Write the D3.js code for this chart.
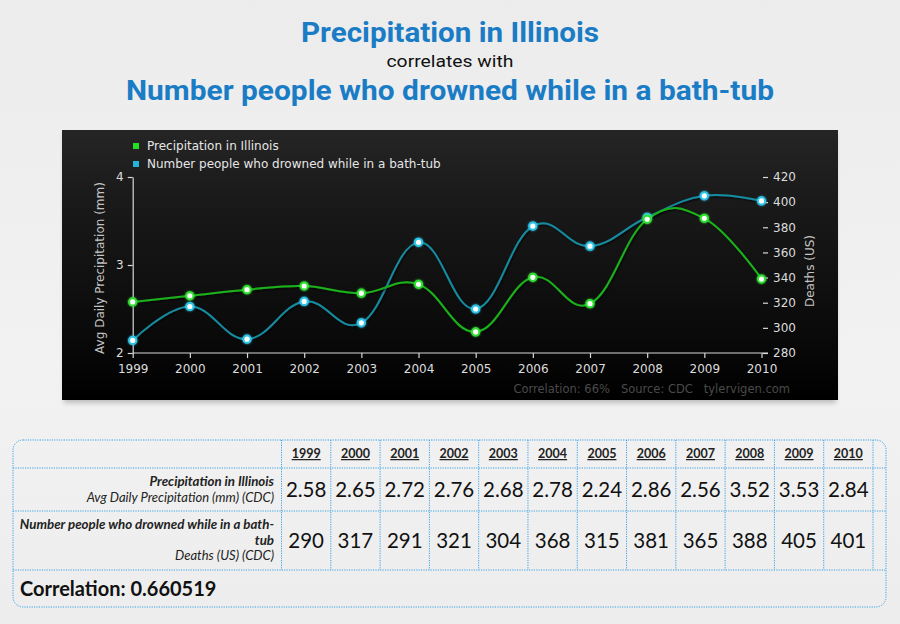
<!DOCTYPE html>
<html>
<head>
<meta charset="utf-8">
<script src="https://cdn.jsdelivr.net/npm/d3@7"></script>
<style>
html,body{margin:0;padding:0;background:#efefef;}
svg{display:block;}
</style>
</head>
<body>
<svg id="chart" width="900" height="624"></svg>
<script>
// ---- data ----
const years = [1999,2000,2001,2002,2003,2004,2005,2006,2007,2008,2009,2010];
const precipitation = [2.58,2.65,2.72,2.76,2.68,2.78,2.24,2.86,2.56,3.52,3.53,2.84];
const drownings = [290,317,291,321,304,368,315,381,365,388,405,401];
const leftTicks = [2,3,4];
const rightTicks = [280,300,320,340,360,380,400,420];
const seriesNames = ["Precipitation in Illinois","Number people who drowned while in a bath-tub"];
const precipLabel = ["Precipitation in Illinois","Avg Daily Precipitation (mm) (CDC)"];
const drownLabel = ["Number people who drowned while in a bath-","tub","Deaths (US) (CDC)"];
const precipText = ["2.58","2.65","2.72","2.76","2.68","2.78","2.24","2.86","2.56","3.52","3.53","2.84"];
const correlationText = "Correlation: 0.660519";
const creditText = "Correlation: 66%   Source: CDC   tylervigen.com";

const svg = d3.select("#chart");
const defs = svg.append("defs");

// background gradient
const pg = defs.append("linearGradient").attr("id","pagebg").attr("x1",0).attr("y1",0).attr("x2",0).attr("y2",1);
pg.append("stop").attr("offset","0%").attr("stop-color","#ececec");
pg.append("stop").attr("offset","60%").attr("stop-color","#f2f2f2");
pg.append("stop").attr("offset","100%").attr("stop-color","#ededed");
svg.append("rect").attr("width",900).attr("height",624).attr("fill","url(#pagebg)");

const cg = defs.append("linearGradient").attr("id","chartbg").attr("x1",0).attr("y1",0).attr("x2",0).attr("y2",1);
[["0%","#252525"],["25%","#1a1a1a"],["50%","#121212"],["75%","#0a0a0a"],["100%","#000000"]].forEach(s=>
  cg.append("stop").attr("offset",s[0]).attr("stop-color",s[1]));

const sh = defs.append("filter").attr("id","boxshadow").attr("x","-5%").attr("y","-10%").attr("width","110%").attr("height","125%");
sh.append("feGaussianBlur").attr("stdDeviation",2.5);

const lineShadow = defs.append("filter").attr("id","lineshadow").attr("x","-10%").attr("y","-10%").attr("width","120%").attr("height","130%");
lineShadow.append("feDropShadow").attr("dx",1).attr("dy",1).attr("stdDeviation",1.2).attr("flood-color","#000").attr("flood-opacity",0.9);

const glow = defs.append("filter").attr("id","glow").attr("x","-100%").attr("y","-100%").attr("width","300%").attr("height","300%");
glow.append("feGaussianBlur").attr("stdDeviation",1.2).attr("result","b");
const gm = glow.append("feMerge");
gm.append("feMergeNode").attr("in","b");
gm.append("feMergeNode").attr("in","SourceGraphic");

// ---- titles ----
const titleBlue = "#1b7cc6";
svg.append("text").attr("x",450).attr("y",42).attr("text-anchor","middle")
  .attr("font-family","Roboto, 'Open Sans', sans-serif").attr("font-weight","bold").attr("font-size",27)
  .attr("fill",titleBlue).attr("textLength",298).attr("lengthAdjust","spacingAndGlyphs")
  .text("Precipitation in Illinois");
svg.append("text").attr("x",450).attr("y",67).attr("text-anchor","middle")
  .attr("font-family","Roboto, 'Open Sans', sans-serif").attr("font-size",16.5)
  .attr("fill","#111").attr("textLength",127).attr("lengthAdjust","spacingAndGlyphs")
  .text("correlates with");
svg.append("text").attr("x",450).attr("y",100).attr("text-anchor","middle")
  .attr("font-family","Roboto, 'Open Sans', sans-serif").attr("font-weight","bold").attr("font-size",27)
  .attr("fill",titleBlue).attr("textLength",648).attr("lengthAdjust","spacingAndGlyphs")
  .text("Number people who drowned while in a bath-tub");

// ---- chart box ----
svg.append("rect").attr("x",64).attr("y",134).attr("width",772).attr("height",269)
  .attr("fill","#000").attr("opacity",0.22).attr("filter","url(#boxshadow)");
svg.append("rect").attr("x",62).attr("y",130).attr("width",776).attr("height",270)
  .attr("fill","url(#chartbg)");

const x = d3.scaleLinear().domain([1999,2010]).range([132.7,761.5]);
const yL = d3.scaleLinear().domain([2,4]).range([353,177]);
const yR = d3.scaleLinear().domain([280,420]).range([353,177]);

const axisColor = "#d8d8d8";
const labelColor = "#dcdcdc";
const chartFont = "'DejaVu Sans', Verdana, sans-serif";

// bottom axis
const xAxis = d3.axisBottom(x).tickValues(years).tickFormat(d3.format("d")).tickSize(5).tickSizeOuter(0);
const gx = svg.append("g").attr("transform","translate(0,353)").call(xAxis);
gx.select(".domain").remove();
gx.append("line").attr("x1",132.7).attr("x2",768).attr("y1",0).attr("y2",0).attr("stroke",axisColor).attr("stroke-width",1.2);
gx.selectAll(".tick line").attr("stroke",axisColor).attr("stroke-width",1.2);
gx.selectAll(".tick text").attr("fill",labelColor).attr("font-family",chartFont).attr("font-size",12).attr("dy","0.95em").attr("y",9);

// left axis
const yAxisL = d3.axisLeft(yL).tickValues(leftTicks).tickFormat(d3.format("d")).tickSize(5).tickSizeOuter(0);
const gyl = svg.append("g").attr("transform","translate(132.7,0)").call(yAxisL);
gyl.select(".domain").attr("stroke",axisColor).attr("stroke-width",1.2);
gyl.selectAll(".tick line").attr("stroke",axisColor).attr("stroke-width",1.2);
gyl.selectAll(".tick text").attr("fill",labelColor).attr("font-family",chartFont).attr("font-size",12).attr("x",-9);

// right axis (ticks only)
const yAxisR = d3.axisRight(yR).tickValues(rightTicks).tickFormat(d3.format("d")).tickSize(5).tickSizeOuter(0);
const gyr = svg.append("g").attr("transform","translate(763,0)").call(yAxisR);
gyr.select(".domain").remove();
gyr.selectAll(".tick line").attr("stroke",axisColor).attr("stroke-width",1.2);
gyr.selectAll(".tick text").attr("fill",labelColor).attr("font-family",chartFont).attr("font-size",12).attr("x",10);

// axis titles
svg.append("text").attr("transform","translate(104,268) rotate(-90)").attr("text-anchor","middle")
  .attr("fill","#c4c4c4").attr("font-family",chartFont).attr("font-size",12)
  .text("Avg Daily Precipitation (mm)");
svg.append("text").attr("transform","translate(814,271) rotate(-90)").attr("text-anchor","middle")
  .attr("fill","#c4c4c4").attr("font-family",chartFont).attr("font-size",12)
  .text("Deaths (US)");

// credit
svg.append("text").attr("x",790).attr("y",393).attr("text-anchor","end")
  .attr("fill","#4a4a4a").attr("font-family",chartFont).attr("font-size",11.5)
  .style("white-space","pre").text(creditText);

// legend
const legendColors = ["#22e022","#22b4d8"];
seriesNames.forEach((n,i)=>{
  svg.append("rect").attr("x",133).attr("y",143+i*18).attr("width",6).attr("height",6).attr("fill",legendColors[i]);
  svg.append("text").attr("x",147).attr("y",150+i*18).attr("fill","#e6e6e6")
    .attr("font-family",chartFont).attr("font-size",12).text(n);
});

// Highcharts-style spline
function splinePath(pts){
  const sm = 1.5, den = sm + 1;
  const ctrl = pts.map((p,i)=>{
    if(i===0 || i===pts.length-1) return null;
    const [px,py] = p, [lx,ly] = pts[i-1], [nx,ny] = pts[i+1];
    let lcx=(sm*px+lx)/den, lcy=(sm*py+ly)/den, rcx=(sm*px+nx)/den, rcy=(sm*py+ny)/den;
    let corr = 0;
    if(rcx!==lcx) corr = ((rcy-lcy)*(rcx-px))/(rcx-lcx) + py - rcy;
    lcy += corr; rcy += corr;
    return {lcx,lcy,rcx,rcy};
  });
  const path = d3.path();
  path.moveTo(pts[0][0],pts[0][1]);
  for(let i=1;i<pts.length;i++){
    const a = ctrl[i-1], b = ctrl[i];
    path.bezierCurveTo(a?a.rcx:pts[i-1][0], a?a.rcy:pts[i-1][1], b?b.lcx:pts[i][0], b?b.lcy:pts[i][1], pts[i][0], pts[i][1]);
  }
  return path.toString();
}

const series = [
  {vals: drownings, scale: yR, line:"#188a9e", marker:"#2cc6ea"},
  {vals: precipitation, scale: yL, line:"#1cb01c", marker:"#2ee02e"}
];
series.forEach(s=>{
  const pts = years.map((yr,i)=>[x(yr), s.scale(s.vals[i])]);
  svg.append("path").attr("d",splinePath(pts)).attr("fill","none")
    .attr("stroke",s.line).attr("stroke-width",2).attr("filter","url(#lineshadow)");
});
series.forEach(s=>{
  svg.append("g").selectAll("circle").data(years).join("circle")
    .attr("cx",d=>x(d)).attr("cy",(d,i)=>s.scale(s.vals[i])).attr("r",3.6)
    .attr("fill","#ffffff").attr("stroke",s.marker).attr("stroke-width",2).attr("filter","url(#glow)");
});

// ---- table ----
const tbl = svg.append("g");
const tLeft = 13, tRight = 886, tTop = 440, tBottom = 607;
const colX = d3.scaleBand().domain(years).range([281.5, 873]);
const rowY = [440, 468, 511, 570];
const dotted = {stroke:"#3aa2e6", dash:"1.2,1.2", w:1};

tbl.append("rect").attr("x",tLeft).attr("y",tTop).attr("width",tRight-tLeft).attr("height",tBottom-tTop)
  .attr("rx",10).attr("fill","none").attr("stroke",dotted.stroke).attr("stroke-width",dotted.w).attr("stroke-dasharray",dotted.dash);

[rowY[1], rowY[2], rowY[3]].forEach(y=>{
  tbl.append("line").attr("x1",tLeft).attr("x2",tRight).attr("y1",y).attr("y2",y)
    .attr("stroke",dotted.stroke).attr("stroke-width",dotted.w).attr("stroke-dasharray",dotted.dash);
});
const vlines = years.map(d=>colX(d)).concat([colX(2010)+colX.bandwidth()]);
vlines.forEach(xv=>{
  tbl.append("line").attr("x1",xv).attr("x2",xv).attr("y1",tTop).attr("y2",rowY[3])
    .attr("stroke",dotted.stroke).attr("stroke-width",dotted.w).attr("stroke-dasharray",dotted.dash);
});

const tFont = "Lato, 'Open Sans', sans-serif";
years.forEach(yr=>{
  const cx = colX(yr)+colX.bandwidth()/2;
  tbl.append("text").attr("x",cx).attr("y",458).attr("text-anchor","middle")
    .attr("font-family",tFont).attr("font-weight","bold").attr("font-size",12.5).attr("fill","#222")
    .attr("text-decoration","underline").text(yr);
});
years.forEach((yr,i)=>{
  const cx = colX(yr)+colX.bandwidth()/2;
  tbl.append("text").attr("x",cx).attr("y",497).attr("text-anchor","middle")
    .attr("font-family",tFont).attr("font-size",20.5).attr("fill","#111").text(precipText[i]);
  tbl.append("text").attr("x",cx).attr("y",548).attr("text-anchor","middle")
    .attr("font-family",tFont).attr("font-size",20.5).attr("fill","#111").text(drownings[i]);
});
function rowLabel(txt,y,bold){
  tbl.append("text").attr("x",274).attr("y",y).attr("text-anchor","end").attr("font-family",tFont)
    .attr("font-weight",bold?"bold":"normal").attr("font-style","italic").attr("font-size",bold?13.3:13)
    .attr("fill","#222").text(txt);
}
rowLabel(precipLabel[0],486,true);
rowLabel(precipLabel[1],502,false);
rowLabel(drownLabel[0],529,true);
rowLabel(drownLabel[1],545,true);
rowLabel(drownLabel[2],560,false);

tbl.append("text").attr("x",20).attr("y",596).attr("font-family",tFont).attr("font-weight","bold")
  .attr("font-size",20).attr("fill","#111").text(correlationText);
</script>
</body>
</html>
